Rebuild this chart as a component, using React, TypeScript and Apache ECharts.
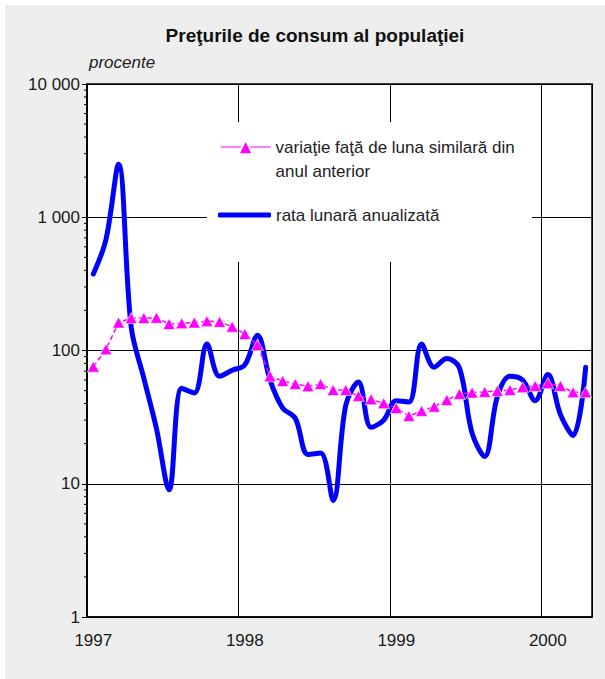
import React, { useEffect, useRef } from 'react';
import * as echarts from 'echarts';

const FONT = '"Liberation Sans", Arial, Helvetica, sans-serif';

const startYear = 1997;
const monthCount = 40;
const categories: string[] = Array.from({ length: monthCount }, (_, i) =>
  `${startYear + Math.floor(i / 12)}-${String((i % 12) + 1).padStart(2, '0')}`
);

const yoyName = 'variaţie faţă de luna similară din anul anterior';
const yoyLegendLines = ['variaţie faţă de luna similară din', 'anul anterior'];
const monthlyName = 'rata lunară anualizată';

// variaţie faţă de luna similară din anul anterior (procente)
const yoyValues = [
  75.6, 102, 162, 175, 175, 176, 158, 160, 162, 166, 164, 151,
  133, 110, 64, 59, 56, 54, 56, 50.5, 50.5, 45.6, 43, 40.2,
  37, 32.2, 35.2, 37.9, 42.5, 47.2, 48.3, 48.9, 49.7, 50.5, 53, 54.2,
  56.8, 54.2, 48.6, 48.6,
];

// rata lunară anualizată (procente)
const monthlyValues = [
  375, 680, 2500, 150, 62, 26, 9, 52, 48, 112, 64, 71,
  78, 130, 60, 37, 31, 16.6, 17, 7.5, 39, 58, 26.5, 30,
  42, 41, 112, 75, 87, 74, 24, 16, 45, 64, 60, 42,
  66, 33, 23, 75,
];

const yTickLabels: Record<string, string> = {
  '1': '1',
  '10': '10',
  '100': '100',
  '1000': '1 000',
  '10000': '10 000',
};

const decades = [1, 10, 100, 1000];
const minorMultipliers = [2, 3, 4, 5, 6, 7, 8, 9];
const minorTickValues: number[] = [];
decades.forEach((d) => minorMultipliers.forEach((m) => minorTickValues.push(d * m)));

export default function App() {
  const ref = useRef<HTMLDivElement>(null);

  useEffect(() => {
    if (!ref.current) return;
    const chart = echarts.init(ref.current, undefined, { renderer: 'svg' });
    const option: any = {
      animation: false,
      backgroundColor: 'transparent',
      textStyle: { fontFamily: FONT },
      title: {
        text: 'Preţurile de consum al populaţiei',
        left: 305,
        top: 16,
        textAlign: 'center',
        textStyle: { fontSize: 19, fontWeight: 'bold', color: '#111', fontFamily: FONT },
      },
      grid: {
        left: 82,
        top: 79,
        width: 505,
        height: 533,
        show: true,
        backgroundColor: '#ffffff',
        borderColor: '#000',
        borderWidth: 1.5,
      },
      legend: [
        {
          data: [yoyName],
          left: 215,
          top: 106,
          padding: 0,
          itemWidth: 50,
          itemHeight: 18,
          selectedMode: false,
          formatter: () => ' \n' + yoyLegendLines.join('\n'),
          textStyle: {
            fontSize: 17,
            lineHeight: 24,
            color: '#222',
            fontFamily: FONT,
          },
          lineStyle: { type: 'solid', width: 1.2 },
          z: 6,
        },
        {
          data: [{ name: monthlyName, icon: 'roundRect' }],
          left: 213,
          top: 201,
          padding: 0,
          itemWidth: 53,
          itemHeight: 5,
          selectedMode: false,
          textStyle: { fontSize: 17, lineHeight: 18, color: '#222', fontFamily: FONT },
          itemStyle: { color: '#0000ff', borderWidth: 0 },
          z: 6,
        },
      ],
      graphic: [
        {
          type: 'rect',
          z: 3,
          silent: true,
          shape: { x: 202, y: 117, width: 325, height: 140 },
          style: { fill: '#ffffff' },
        },
      ],
      xAxis: {
        type: 'category',
        data: categories,
        boundaryGap: true,
        axisLine: { show: true, lineStyle: { color: '#000', width: 1.5 } },
        axisTick: { show: false },
        axisLabel: {
          interval: 11,
          margin: 15,
          fontSize: 17,
          color: '#1a1a1a',
          fontFamily: FONT,
          formatter: (v: string) => v.slice(0, 4),
        },
        splitLine: { show: true, interval: 11, lineStyle: { color: '#000', width: 1 } },
      },
      yAxis: {
        type: 'log',
        logBase: 10,
        min: 1,
        max: 10000,
        splitNumber: 4,
        name: 'procente',
        nameLocation: 'end',
        nameGap: 22,
        nameTextStyle: {
          align: 'left',
          verticalAlign: 'middle',
          fontStyle: 'italic',
          fontSize: 17,
          color: '#222',
          fontFamily: FONT,
          padding: [0, 0, 0, 2],
        },
        axisLine: { show: true, lineStyle: { color: '#000', width: 1.5 } },
        axisTick: { show: true, length: 5, lineStyle: { color: '#000', width: 1 } },
        axisLabel: {
          margin: 7,
          fontSize: 17,
          color: '#1a1a1a',
          fontFamily: FONT,
          formatter: (v: number) => yTickLabels[String(Math.round(v))] ?? '',
        },
        splitLine: { show: true, lineStyle: { color: '#000', width: 1.2 } },
      },
      series: [
        {
          type: 'custom',
          name: 'minorTicks',
          silent: true,
          clip: false,
          z: 1,
          data: minorTickValues.map((v) => [0, v]),
          encode: { x: 0, y: 1 },
          renderItem: (params: any, api: any) => {
            const pt = api.coord([0, api.value(1)]);
            const cs = params.coordSys;
            return {
              type: 'line',
              shape: { x1: cs.x - 3, y1: pt[1], x2: cs.x, y2: pt[1] },
              style: { stroke: '#000', lineWidth: 1 },
            };
          },
        },
        {
          type: 'line',
          name: monthlyName,
          data: monthlyValues,
          smooth: 0.35,
          symbol: 'none',
          showSymbol: false,
          z: 2,
          lineStyle: { color: '#0000ff', width: 5, cap: 'round', join: 'round' },
          itemStyle: { color: '#0000ff' },
        },
        {
          type: 'line',
          name: yoyName,
          data: yoyValues,
          symbol: 'triangle',
          symbolSize: [12, 11],
          showSymbol: true,
          showAllSymbol: true,
          z: 4,
          lineStyle: { color: '#ff00ff', width: 1.5, type: [5, 3] },
          itemStyle: { color: '#ff00ff', borderColor: '#ffffff', borderWidth: 0.6 },
        },
      ],
    };
    chart.setOption(option);
    return () => chart.dispose();
  }, []);

  return (
    <div style={{ position: 'absolute', left: 0, top: 0, width: 605, height: 679, background: '#ffffff' }}>
      <div
        ref={ref}
        style={{ position: 'absolute', left: 5, top: 5, width: 600, height: 674, background: '#eeeeee' }}
      />
    </div>
  );
}
